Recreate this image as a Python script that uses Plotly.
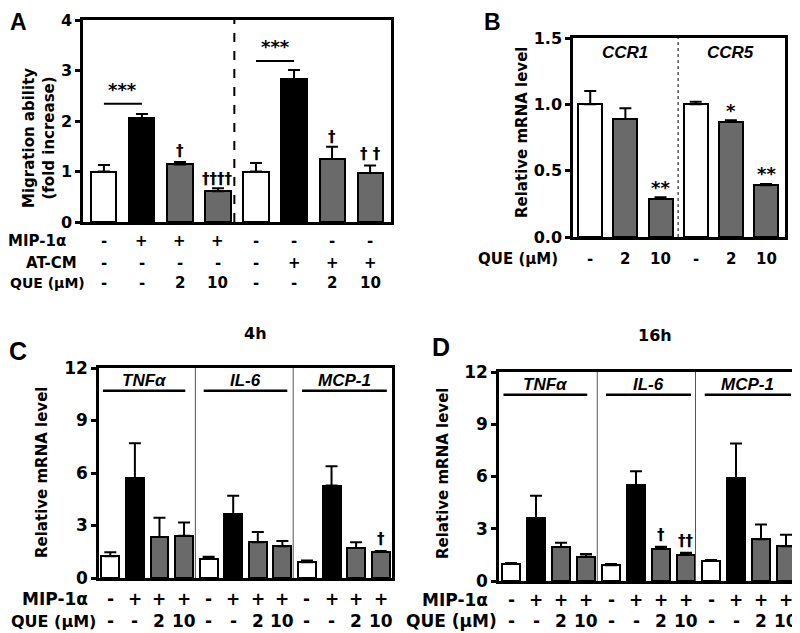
import plotly.graph_objects as go

# The page body keeps an 8px default margin, so the figure is drawn 8px in
# from the window's top-left corner; size it to end at the window edge.
OFF = 8
W, H = 800 - OFF, 633 - OFF
FONT = "DejaVu Sans, Liberation Sans, sans-serif"
FONT_A = "Liberation Sans, Arial, sans-serif"
WHITE, BLACK, GRAY = "#ffffff", "#000000", "#6a6a6a"

# ---------------- Panel A data ----------------
a_vals = [1.0, 2.05, 1.14, 0.61, 1.0, 2.83, 1.25, 0.97]
a_errs = [0.13, 0.09, 0.05, 0.06, 0.17, 0.18, 0.24, 0.15]
a_cols = [WHITE, BLACK, GRAY, GRAY, WHITE, BLACK, GRAY, GRAY]
a_mip = ["-", "+", "+", "+", "-", "-", "-", "-"]
a_atcm = ["-", "-", "-", "-", "-", "+", "+", "+"]
a_que = ["-", "-", "2", "10", "-", "-", "2", "10"]
a_marks = ["", "", "†", "††††", "", "", "†", "† †"]
a_mark_y = [0, 0, 1.41, 0.85, 0, 0, 1.68, 1.35]
a_ticks = [0, 1, 2, 3, 4]

# ---------------- Panel B data ----------------
b_vals = [1.0, 0.89, 0.29, 1.0, 0.87, 0.39]
b_errs = [0.10, 0.08, 0.01, 0.02, 0.01, 0.01]
b_cols = [WHITE, GRAY, GRAY, WHITE, GRAY, GRAY]
b_que = ["-", "2", "10", "-", "2", "10"]
b_marks = ["", "", "**", "", "*", "**"]
b_genes = ["CCR1", "CCR5"]
b_ticks = [0.0, 0.5, 1.0, 1.5]

# ---------------- Panel C data (4h) ----------------
c_vals = [1.25, 5.7, 2.35, 2.42, 1.1, 3.65, 2.05, 1.82, 0.9, 5.28, 1.72, 1.5]
c_errs = [0.22, 2.0, 1.1, 0.75, 0.12, 1.05, 0.58, 0.3, 0.1, 1.1, 0.33, 0.05]
c_marks = [""] * 11 + ["†"]

# ---------------- Panel D data (16h) ----------------
d_vals = [1.0, 3.6, 1.95, 1.4, 0.9, 5.5, 1.85, 1.5, 1.15, 5.9, 2.4, 2.0]
d_errs = [0.03, 1.3, 0.25, 0.15, 0.07, 0.8, 0.12, 0.12, 0.06, 2.0, 0.85, 0.65]
d_marks = [""] * 6 + ["†", "††"] + [""] * 4

cd_cols = [WHITE, BLACK, GRAY, GRAY] * 3
cd_mip = ["-", "+", "+", "+"] * 3
cd_que = ["-", "-", "2", "10"] * 3
cd_genes = ["TNF<i>α</i>", "IL-6", "MCP-1"]
cd_ticks = [0, 3, 6, 9, 12]


def px(x):
    return (x - OFF) / W


def py(y):
    return 1 - (y - OFF) / H


fig = go.Figure()
annotations = []
shapes = []


def add_bars(vals, errs, cols, xa, ya, width):
    xs = list(range(len(vals)))
    fig.add_trace(go.Bar(
        x=xs, y=vals, width=width, xaxis=xa, yaxis=ya,
        marker=dict(color=cols, line=dict(color=BLACK, width=2)),
        error_y=dict(type="data", symmetric=False, array=errs,
                     arrayminus=[0] * len(vals), color=BLACK,
                     thickness=2, width=6),
        showlegend=False, hoverinfo="skip"))


def txt(x, y, text, xref, yref, size=15, bold=True, italic=False,
        xanchor="center", yanchor="middle", angle=0, family=FONT):
    annotations.append(dict(
        x=x, y=y, xref=xref, yref=yref, text=text, showarrow=False,
        xanchor=xanchor, yanchor=yanchor, textangle=angle, borderpad=0,
        font=dict(family=family, size=size, color=BLACK,
                  weight="bold" if bold else "normal",
                  style="italic" if italic else "normal")))


def axis_pair(name_x, name_y, anchor_x, anchor_y, xdom, ydom, xr, yr, ticks,
              ticktext=None, tsize=16):
    common = dict(showline=True, linecolor=BLACK, linewidth=2.5, mirror=True,
                  showgrid=False, zeroline=False, fixedrange=True, automargin=False)
    fig.layout[name_x] = dict(domain=xdom, range=xr, anchor=anchor_y,
                              showticklabels=False, ticks="", **common)
    fig.layout[name_y] = dict(domain=ydom, range=yr, anchor=anchor_x,
                              tickvals=ticks, ticktext=ticktext,
                              ticks="outside", ticklen=5, tickwidth=2.5,
                              tickcolor=BLACK,
                              tickfont=dict(family=FONT, size=tsize, color=BLACK,
                                            weight="bold"),
                              **common)


# ---------- Panel A ----------
axis_pair("xaxis", "yaxis", "x", "y", [px(83), px(391)], [py(222), py(20)],
          [-0.55, 7.55], [0, 4], a_ticks)
add_bars(a_vals, a_errs, a_cols, "x", "y", 0.66)
shapes.append(dict(type="line", xref="x", yref="y", x0=3.43, x1=3.43, y0=0, y1=4,
                   line=dict(color=BLACK, width=2, dash="dash")))
shapes.append(dict(type="line", xref="x", yref="y", x0=0, x1=1, y0=2.34, y1=2.34,
                   line=dict(color=BLACK, width=2)))
shapes.append(dict(type="line", xref="x", yref="y", x0=4, x1=5, y0=3.19, y1=3.19,
                   line=dict(color=BLACK, width=2)))
txt(0.5, 2.40, "***", "x", "y", size=18, yanchor="bottom")
txt(4.5, 3.25, "***", "x", "y", size=18, yanchor="bottom")
for i, m in enumerate(a_marks):
    if m:
        txt(i, a_mark_y[i], m, "x", "y", size=15, bold=True)
for i in range(8):
    txt(i, py(241), a_mip[i], "x", "paper")
    txt(i, py(263), a_atcm[i], "x", "paper")
    txt(i, py(283), a_que[i], "x", "paper")
txt(px(67), py(241), "MIP-1α", "paper", "paper", xanchor="right")
txt(px(78), py(263), "AT-CM", "paper", "paper", xanchor="right")
txt(px(9), py(283), "QUE (μM)", "paper", "paper", size=14, xanchor="left")
txt(px(39), py(138), "Migration ability<br>(fold increase)", "paper", "paper",
    size=15, angle=-90)
txt(px(18), py(22), "A", "paper", "paper", size=23, family=FONT_A)

# ---------- Panel B ----------
axis_pair("xaxis2", "yaxis2", "x2", "y2", [px(573), px(785)], [py(237), py(38)],
          [-0.49, 5.54], [0, 1.5], b_ticks, ["0.0", "0.5", "1.0", "1.5"])
add_bars(b_vals, b_errs, b_cols, "x2", "y2", 0.68)
shapes.append(dict(type="line", xref="x2", yref="y2", x0=2.5, x1=2.5, y0=0, y1=1.5,
                   line=dict(color=BLACK, width=1, dash="dot")))
for i, m in enumerate(b_marks):
    if m:
        txt(i, b_vals[i] + b_errs[i] - 0.01, m, "x2", "y2", size=18, yanchor="bottom")
txt(1, 1.39, b_genes[0], "x2", "y2", size=17, italic=True, family=FONT_A)
txt(4, 1.39, b_genes[1], "x2", "y2", size=17, italic=True, family=FONT_A)
for i in range(6):
    txt(i, py(259), b_que[i], "x2", "paper")
txt(px(559), py(259), "QUE (μM)", "paper", "paper", xanchor="right")
txt(px(522), py(133), "Relative mRNA level", "paper", "paper", size=15, angle=-90)
txt(px(492), py(22), "B", "paper", "paper", size=23, family=FONT_A)


# ---------- Panels C and D ----------
def panel_cd(xa, ya, xdom, ydom, xr, vals, errs, marks, row_y, lab_x, title, title_xy,
             letter, letter_xy, ylab_x, seps, gene_spans, que_left=None):
    axis_pair(xa.replace("x", "xaxis"), ya.replace("y", "yaxis"), xa, ya,
              xdom, ydom, xr, [0, 12], cd_ticks, tsize=17)
    add_bars(vals, errs, cd_cols, xa, ya, 0.73)
    for s in seps:
        shapes.append(dict(type="line", xref=xa, yref=ya, x0=s, x1=s, y0=0, y1=12,
                           line=dict(color="#555555", width=1)))
    for g, (x0, x1) in zip(cd_genes, gene_spans):
        shapes.append(dict(type="line", xref=xa, yref=ya, x0=x0, x1=x1, y0=10.7, y1=10.7,
                           line=dict(color=BLACK, width=2.5)))
        txt((x0 + x1) / 2, 11.3, g, xa, ya, size=17, bold=True, italic=True,
            family=FONT_A)
    for i, m in enumerate(marks):
        if m:
            txt(i, vals[i] + errs[i] + 0.1, m, xa, ya, size=15, bold=True,
                yanchor="bottom")
    for i in range(12):
        txt(i, py(row_y[0]), cd_mip[i], xa, "paper", size=17)
        txt(i, py(row_y[1]), cd_que[i], xa, "paper", size=17)
    txt(px(lab_x[0]), py(row_y[0]), "MIP-1α", "paper", "paper", size=17, xanchor="right")
    if que_left is not None:
        txt(px(que_left), py(row_y[1]), "QUE (μM)", "paper", "paper", size=16,
            xanchor="left")
    else:
        txt(px(lab_x[1]), py(row_y[1]), "QUE (μM)", "paper", "paper", size=17,
            xanchor="right")
    txt(px(ylab_x), py(473), "Relative mRNA level", "paper", "paper", size=15, angle=-90)
    txt(px(title_xy[0]), py(title_xy[1]), title, "paper", "paper", size=16)
    txt(px(letter_xy[0]), py(letter_xy[1]), letter, "paper", "paper", size=25,
        family=FONT_A)


panel_cd("x3", "y3", [px(99), px(392)], [py(578), py(368)], [-0.46, 11.46],
         c_vals, c_errs, c_marks, (599, 621), (89, 98), "4h", (255, 333),
         "C", (18, 351), 42, [3.46, 7.44],
         [(-0.3, 3.05), (3.8, 7.2), (7.8, 11.25)], que_left=10)
panel_cd("x4", "y4", [px(499), px(797)], [py(581), py(372)], [-0.48, 11.44],
         d_vals, d_errs, d_marks, (600, 621), (489, 498), "16h", (655, 335),
         "D", (441, 347), 443, [3.45, 7.38],
         [(-0.3, 3.05), (3.8, 7.2), (7.75, 11.2)])

fig.update_layout(
    width=W, height=H, margin=dict(l=0, r=0, t=0, b=0, autoexpand=False),
    paper_bgcolor="white", plot_bgcolor="white",
    annotations=annotations, shapes=shapes, bargap=0,
    font=dict(family=FONT, color=BLACK),
)
fig.write_html("out.html")
